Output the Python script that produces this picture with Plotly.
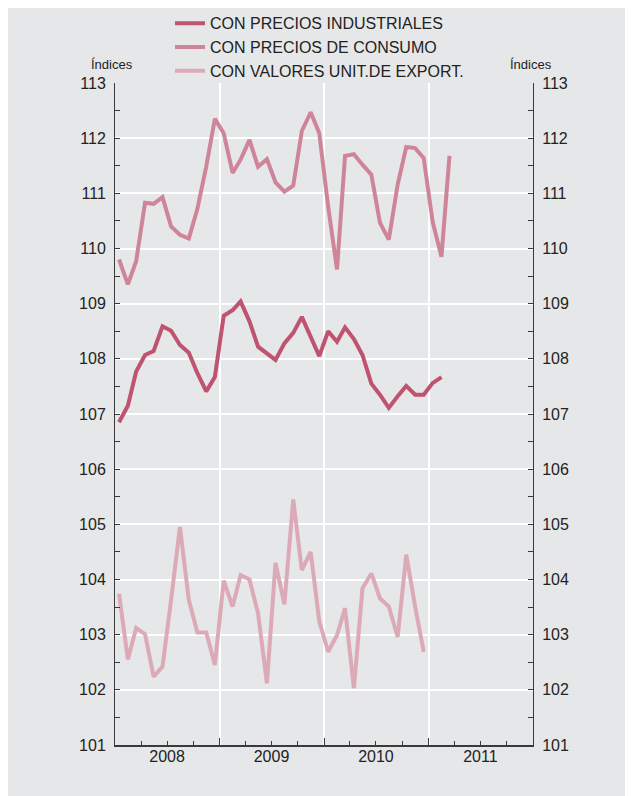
import plotly.graph_objects as go

# ---- data ----
SERIES_NAMES = ["CON PRECIOS INDUSTRIALES", "CON PRECIOS DE CONSUMO", "CON VALORES UNIT.DE EXPORT."]

INDUSTRIALES = [106.85, 107.15, 107.77, 108.07, 108.14, 108.59, 108.51, 108.25, 108.11, 107.74, 107.41, 107.67,
                108.78, 108.88, 109.04, 108.68, 108.22, 108.09, 107.98, 108.28, 108.47, 108.76, 108.40, 108.05,
                108.50, 108.31, 108.57, 108.36, 108.07, 107.55, 107.35, 107.11, 107.32, 107.51, 107.35, 107.35,
                107.56, 107.67]

CONSUMO = [109.80, 109.35, 109.77, 110.83, 110.81, 110.93, 110.40, 110.25, 110.18, 110.72, 111.49, 112.35,
           112.09, 111.37, 111.61, 111.97, 111.48, 111.62, 111.20, 111.03, 111.14, 112.13, 112.47, 112.09,
           110.76, 109.62, 111.68, 111.71, 111.52, 111.34, 110.47, 110.16, 111.16, 111.84, 111.82, 111.64,
           110.49, 109.85, 111.68]

EXPORT = [103.74, 102.55, 103.12, 103.01, 102.24, 102.42, 103.63, 104.95, 103.63, 103.04, 103.04, 102.45,
          103.98, 103.51, 104.08, 104.00, 103.39, 102.12, 104.30, 103.55, 105.45, 104.17, 104.50, 103.24,
          102.69, 102.99, 103.48, 102.03, 103.84, 104.11, 103.66, 103.51, 102.96, 104.45, 103.51, 102.69]

MONTHS = [f"{2008 + i // 12}-{i % 12 + 1:02d}-15" for i in range(48)]
YEAR_LABELS = ["2008", "2009", "2010", "2011"]
Y_RANGE = [101, 113]
Y_UNIT = "Índices"

COLORS = ["#bf5470", "#cf8599", "#dcaab7"]
BG = "#e6e7e8"
AXC = "#3a3a3a"
FONT = "Liberation Sans"

PW, PH = 418, 662  # plot area size in px

fig = go.Figure()
for name, vals, col in zip(SERIES_NAMES, [INDUSTRIALES, CONSUMO, EXPORT], COLORS):
    fig.add_trace(go.Scatter(x=MONTHS[:len(vals)], y=vals, name=name, mode="lines",
                             line=dict(color=col, width=4), hoverinfo="skip"))
# invisible trace to anchor the right-hand axis
fig.add_trace(go.Scatter(x=MONTHS[:len(CONSUMO)], y=CONSUMO, yaxis="y2", mode="lines",
                         line=dict(width=0), opacity=0, showlegend=False, hoverinfo="skip"))

year_starts = [f"{y}-01-01" for y in YEAR_LABELS] + ["2012-01-01"]
year_mids = [f"{y}-07-01" for y in YEAR_LABELS]

yaxis_common = dict(range=Y_RANGE, dtick=1, tick0=101, showline=True, linecolor=AXC, linewidth=1,
                    ticks="inside", ticklen=5, tickcolor=AXC, tickwidth=1, ticklabelstandoff=5,
                    minor=dict(dtick=0.5, ticks="inside", ticklen=5, tickcolor=AXC, showgrid=False),
                    tickfont=dict(family=FONT, size=16, color="#222"), zeroline=False, fixedrange=True)

fig.update_layout(
    width=633, height=796,
    margin=dict(l=107, r=108, t=75, b=59, autoexpand=False),
    paper_bgcolor=BG, plot_bgcolor=BG,
    showlegend=True,
    legend=dict(x=55 / PW, y=1 + 76.7 / PH, xanchor="left", yanchor="top", bgcolor="rgba(0,0,0,0)",
                font=dict(family=FONT, size=16, color="#222"), tracegroupgap=0,
                itemwidth=30),
    xaxis=dict(type="date", range=["2008-01-01", "2012-01-01"],
               tickvals=year_starts, ticktext=["", "", "", "", ""],
               ticks="inside", ticklen=7, tickcolor=AXC, tickwidth=1,
               minor=dict(dtick="M3", ticks="inside", ticklen=4, tickcolor=AXC, showgrid=False),
               showgrid=True, gridcolor="white", gridwidth=1.5,
               showline=True, linecolor=AXC, linewidth=2, zeroline=False, fixedrange=True),
    xaxis2=dict(type="date", range=["2008-01-01", "2012-01-01"], overlaying="x", anchor="y", side="bottom",
                tickvals=year_mids, ticktext=YEAR_LABELS, ticks="", showgrid=False, showline=False,
                tickfont=dict(family=FONT, size=16, color="#222"), fixedrange=True),
    yaxis=dict(side="left", showgrid=True, gridcolor="white", gridwidth=1.5, **yaxis_common),
    yaxis2=dict(side="right", overlaying="y", anchor="x", showgrid=False, **yaxis_common),
    annotations=[
        dict(text=Y_UNIT, xref="paper", yref="paper", x=-3.5 / PW, y=1 + 18 / PH,
             xanchor="center", yanchor="middle", showarrow=False,
             font=dict(family=FONT, size=13, color="#222")),
        dict(text=Y_UNIT, xref="paper", yref="paper", x=1 - 2 / PW, y=1 + 18 / PH,
             xanchor="center", yanchor="middle", showarrow=False,
             font=dict(family=FONT, size=13, color="#222")),
    ],
)
# dummy trace on xaxis2 so the year labels axis renders
fig.add_trace(go.Scatter(x=year_mids, y=[107] * 4, xaxis="x2", mode="markers", opacity=0,
                         showlegend=False, hoverinfo="skip"))

fig.write_html("out.html")
